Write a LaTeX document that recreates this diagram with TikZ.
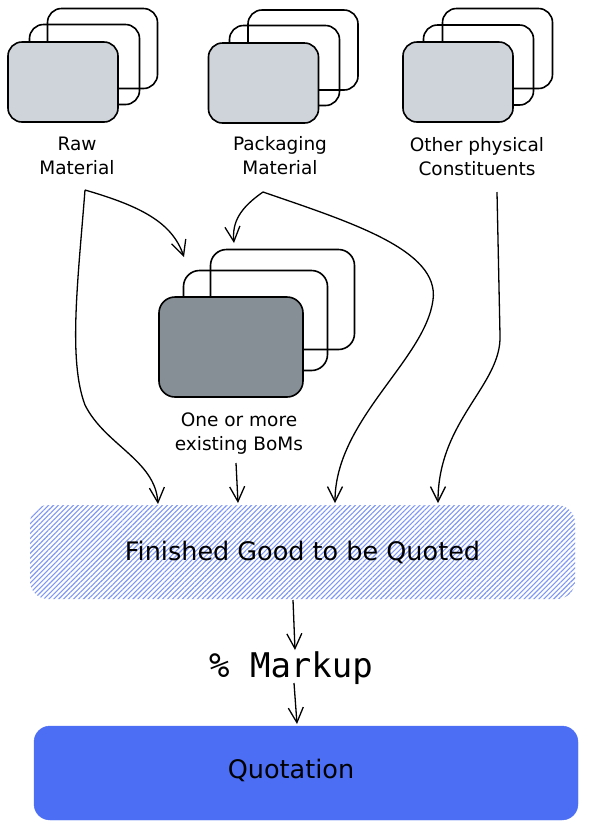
\documentclass[tikz,border=0pt]{standalone}
\usepackage{fontspec}
\setmainfont{DejaVu Sans}
\newfontfamily\monofont{DejaVu Sans Mono}
\usetikzlibrary{arrows.meta,patterns.meta}
\definecolor{cardfill}{HTML}{CED4DA}
\definecolor{bomfill}{HTML}{868E96}
\definecolor{qblue}{HTML}{4C6EF5}
\definecolor{hatchblue}{HTML}{7F97F2}
\begin{document}
\begin{tikzpicture}[x=1pt,y=-1pt,
  card/.style={draw=black, line width=1.6pt, rounded corners=14pt, inner sep=0pt,
    minimum width=110pt, minimum height=80pt},
  bigcard/.style={card, rounded corners=16pt, minimum width=144pt, minimum height=100pt},
  lbl/.style={align=center, font=\fontsize{18.5}{24}\selectfont, inner sep=0pt},
  arr/.style={line width=1.3pt, -{Straight Barb[length=15pt,width=15pt]}},
  finbox/.style={draw=none, rounded corners=18pt, inner sep=0pt,
    minimum width=545pt, minimum height=94pt,
    pattern={Lines[angle=45,distance=3.5pt,line width=1.1pt]}, pattern color=hatchblue,
    font=\fontsize{25.5}{30}\selectfont},
  quotbox/.style={fill=qblue, draw=qblue, rounded corners=16pt, inner sep=0pt,
    minimum width=544pt, minimum height=94pt}
]
\useasboundingbox (0,0) rectangle (589,831);

% Raw material cards
\node[card] (rawB) at (102.5,48.5) {};
\node[card] (rawM) at (84.5,64.5) {};
\node[card, fill=cardfill] (rawF) at (63,82) {};
\node[lbl] (rawL) at (77,156) {Raw\\Material};

% Packaging cards
\node[card] (packB) at (303,50) {};
\node[card] (packM) at (284.5,65.5) {};
\node[card, fill=cardfill] (packF) at (263.5,83) {};
\node[lbl] (packL) at (280,156) {Packaging\\Material};

% Other cards
\node[card] (othB) at (497.5,48.5) {};
\node[card] (othM) at (478.5,65) {};
\node[card, fill=cardfill] (othF) at (458,82) {};
\node[lbl] (othL) at (477,157) {Other physical\\Constituents};

% BoM cards
\node[bigcard] (bomB) at (282.5,299.5) {};
\node[bigcard] (bomM) at (255.5,320.5) {};
\node[bigcard, fill=bomfill] (bomF) at (231,347) {};
\node[lbl] (bomL) at (239,434) {One or more\\existing BoMs};

% Finished good
\node[finbox] (fin) at (302.5,552) {Finished Good to be Quoted};

% Markup
\node[anchor=base, inner sep=0pt, font=\monofont\fontsize{34}{40}\selectfont] (mk) at (291,677) {\% Markup};

% Quotation
\node[quotbox] (quot) at (306,773) {};
\node[inner sep=0pt, font=\fontsize{25.5}{30}\selectfont] (quotT) at (291,770) {Quotation};

% connector end points
\coordinate (rawOut) at (85,190);
\coordinate (packOut) at (263,192);
\coordinate (othOut) at (497,192);
\coordinate (bomIn1) at (184,257);
\coordinate (bomIn2) at (234,243);
\coordinate (bomOut) at (236,463);
\coordinate (fin1) at (158,504);
\coordinate (fin2) at (238,503);
\coordinate (fin3) at (335,503);
\coordinate (fin4) at (438,503);
\coordinate (finOut) at (293,600);
\coordinate (mkIn) at (295,650);
\coordinate (mkOut) at (294,683);
\coordinate (quotIn) at (297,724);

\draw[arr] (rawOut) .. controls (140,206) and (172,222) .. (bomIn1);
\draw[arr] (rawOut) .. controls (78,280) and (68,360) .. (85,405) .. controls (105,445) and (155,460) .. (fin1);
\draw[arr] (packOut) .. controls (240,208) and (232,222) .. (bomIn2);
\draw[arr] (packOut) .. controls (350,222) and (440,250) .. (433,300) .. controls (425,360) and (335,420) .. (fin3);
\draw[arr] (othOut) -- (500,335) .. controls (502,385) and (438,420) .. (fin4);
\draw[arr] (bomOut) -- (fin2);
\draw[arr] (finOut) -- (mkIn);
\draw[arr] (mkOut) -- (quotIn);
\end{tikzpicture}
\end{document}
